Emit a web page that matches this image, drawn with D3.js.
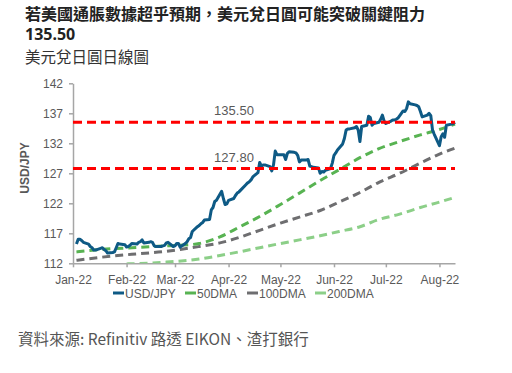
<!DOCTYPE html>
<html>
<head>
<meta charset="utf-8">
<script src="https://cdn.jsdelivr.net/npm/d3@7"></script>
<style>
  body { margin: 0; background: #fff; }
  svg { display: block; }
  .tick text { font-family: "Liberation Sans", Arial, sans-serif; font-size: 12px; fill: #595959; }
</style>
</head>
<body>
<svg id="chart" width="512" height="373"></svg>
<script>
// USD/JPY daily close
var usdDates = [
  '01-03','01-04','01-05','01-06','01-07','01-10','01-11','01-12','01-13','01-14',
  '01-17','01-18','01-19','01-20','01-21','01-24','01-25','01-26','01-27','01-28',
  '01-31','02-01','02-02','02-03','02-04','02-07','02-08','02-09','02-10','02-11',
  '02-14','02-15','02-16','02-17','02-18','02-21','02-22','02-23','02-24','02-25',
  '02-28','03-01','03-02','03-03','03-04','03-07','03-08','03-09','03-10','03-11',
  '03-14','03-15','03-16','03-17','03-18','03-21','03-22','03-23','03-24','03-25',
  '03-28','03-29','03-30','03-31','04-01','04-04','04-05','04-06','04-07','04-08',
  '04-11','04-12','04-13','04-14','04-15','04-18','04-19','04-20','04-21','04-22',
  '04-25','04-26','04-27','04-28','04-29','05-02','05-03','05-04','05-05','05-06',
  '05-09','05-10','05-11','05-12','05-13','05-16','05-17','05-18','05-19','05-20',
  '05-23','05-24','05-25','05-26','05-27','05-30','05-31','06-01','06-02','06-03',
  '06-06','06-07','06-08','06-09','06-10','06-13','06-14','06-15','06-16','06-17',
  '06-20','06-21','06-22','06-23','06-24','06-27','06-28','06-29','06-30','07-01',
  '07-04','07-05','07-06','07-07','07-08','07-11','07-12','07-13','07-14','07-15',
  '07-18','07-19','07-20','07-21','07-22','07-25','07-26','07-27','07-28','07-29',
  '08-01','08-02','08-03','08-04','08-05','08-08','08-09','08-10'
];
var usdValues = [
  115.2,116.0,116.0,115.8,115.5,115.2,114.8,114.6,114.2,114.2,
  114.5,114.6,114.3,114.1,113.7,113.8,113.9,114.6,115.3,115.2,
  115.1,114.7,114.8,115.0,115.3,115.2,115.5,115.6,115.9,115.4,
  115.5,115.6,115.5,114.9,114.8,114.8,114.9,115.0,115.4,115.5,
  114.8,114.9,115.3,115.3,114.7,115.3,115.6,116.1,116.3,117.3,
  118.1,118.3,118.6,118.8,119.2,119.3,120.9,121.3,122.3,122.5,
  124.0,122.8,121.8,121.9,122.5,122.8,123.3,123.7,123.9,124.2,
  125.1,125.4,125.6,125.9,126.4,127.1,128.8,128.2,128.4,128.4,
  128.1,127.4,128.4,130.7,130.1,130.1,130.1,129.3,130.3,130.6,
  130.5,130.4,130.0,128.9,129.2,129.2,129.3,128.2,128.1,128.0,
  127.9,127.0,127.3,127.2,127.5,127.8,128.7,130.0,130.4,130.9,
  131.9,132.8,134.2,134.4,134.4,134.6,134.8,134.2,132.3,134.8,
  135.0,136.5,136.3,135.0,135.3,135.5,136.0,136.7,135.7,135.3,
  135.7,135.9,135.9,136.0,136.2,137.4,137.3,137.8,138.9,138.6,
  138.4,138.3,138.1,137.3,136.4,136.7,137.0,136.6,134.2,133.5,
  131.6,133.1,133.6,133.0,135.0,135.2,135.3,135.5
];

// moving averages, sampled along the curve
var maDates = ['01-03','01-17','02-04','02-24','03-04','03-15','03-27','04-07','04-19','05-01',
               '05-12','05-24','06-04','06-16','06-27','07-09','07-21','08-01','08-10'];
var ma50 = [113.9,114.3,114.6,114.9,115.0,115.3,116.4,118.0,119.8,121.8,
            123.7,125.8,127.6,129.6,131.1,132.3,133.4,134.3,135.2];
var ma100 = [112.5,113.0,113.5,114.0,114.3,114.8,115.4,116.3,117.5,118.7,
             119.7,120.8,122.2,123.8,125.5,127.0,128.7,130.2,131.2];
var ma200Dates = ['02-01','02-24','03-15','03-27','04-07','04-19','05-01','05-12','05-24',
                  '06-04','06-16','06-27','07-09','07-21','08-01','08-10'];
var ma200 = [111.9,112.2,112.7,113.3,113.9,114.6,115.3,115.9,116.6,
             117.3,118.1,119.3,120.2,121.3,122.2,123.0];

var levels = [135.5, 127.8];
var yTicks = [112, 117, 122, 127, 132, 137, 142];
var seriesNames = ['USD/JPY', '50DMA', '100DMA', '200DMA'];
var seriesColors = ['#0e5a85', '#58b352', '#6e6e70', '#8ccf88'];

var parse = d3.timeParse('%Y-%m-%d');
function toDate(s) { return parse('2022-' + s); }

var svg = d3.select('#chart');
var plotL = 73, plotR = 455, plotT = 83.3, plotB = 263.3;

var x = d3.scaleTime()
    .domain([toDate('01-01'), toDate('08-10')])
    .range([plotL, plotR]);
var y = d3.scaleLinear().domain([112, 142]).range([plotB, plotT]);

// titles
svg.append('text').attr('x', 25).attr('y', 20)
    .style('font-family', '"Noto Sans CJK TC", "Noto Sans", sans-serif')
    .style('font-size', '16px').style('font-weight', 'bold').style('fill', '#222')
    .text('若美國通脹數據超乎預期，美元兌日圓可能突破關鍵阻力');
svg.append('text').attr('x', 25).attr('y', 40)
    .style('font-family', '"Noto Sans", sans-serif')
    .style('font-size', '16px').style('font-weight', 'bold').style('fill', '#222')
    .text('135.50');
svg.append('text').attr('x', 25).attr('y', 63)
    .style('font-family', '"Noto Sans CJK TC", sans-serif')
    .style('font-size', '15.5px').style('fill', '#333')
    .text('美元兌日圓日線圖');

// clip
svg.append('clipPath').attr('id', 'plot')
  .append('rect').attr('x', plotL).attr('y', plotT - 10).attr('width', plotR - plotL + 5).attr('height', plotB - plotT + 10);

// axes
var xAxis = svg.append('g')
    .attr('transform', 'translate(0,' + plotB + ')')
    .call(d3.axisBottom(x).ticks(d3.timeMonth.every(1)).tickFormat(d3.timeFormat('%b-%y')).tickSizeInner(4).tickSizeOuter(0).tickPadding(5));
xAxis.select('.domain').attr('stroke', '#a6a6a6').attr('stroke-width', 1.5);
xAxis.selectAll('.tick line').attr('stroke', '#a6a6a6').attr('stroke-width', 1.5);
xAxis.selectAll('.tick text').attr('dy', '0.95em');

var yAxis = svg.append('g')
    .attr('transform', 'translate(' + plotL + ',0)')
    .call(d3.axisLeft(y).tickValues(yTicks).tickSizeInner(4).tickSizeOuter(0).tickPadding(6));
yAxis.select('.domain').attr('stroke', '#a6a6a6').attr('stroke-width', 1.5);
yAxis.selectAll('.tick line').attr('stroke', '#a6a6a6').attr('stroke-width', 1.5);

svg.append('text')
    .attr('transform', 'translate(29,' + 168 + ') rotate(-90)')
    .attr('text-anchor', 'middle')
    .style('font-family', '"Liberation Sans", Arial, sans-serif')
    .style('font-size', '12px').style('font-weight', 'bold').style('fill', '#595959')
    .text('USD/JPY');

var line = d3.line().x(function (d) { return x(d[0]); }).y(function (d) { return y(d[1]); });
var g = svg.append('g').attr('clip-path', 'url(#plot)');

function pairs(dates, vals) {
    return dates.map(function (d, i) { return [toDate(d), vals[i]]; });
}

g.append('path').datum(pairs(ma200Dates, ma200)).attr('d', line.curve(d3.curveMonotoneX))
    .attr('fill', 'none').attr('stroke', seriesColors[3]).attr('stroke-width', 3).attr('stroke-dasharray', '8,5');
g.append('path').datum(pairs(maDates, ma100)).attr('d', line.curve(d3.curveMonotoneX))
    .attr('fill', 'none').attr('stroke', seriesColors[2]).attr('stroke-width', 3).attr('stroke-dasharray', '8,5');
g.append('path').datum(pairs(maDates, ma50)).attr('d', line.curve(d3.curveMonotoneX))
    .attr('fill', 'none').attr('stroke', seriesColors[1]).attr('stroke-width', 3).attr('stroke-dasharray', '8,5');
g.append('path').datum(pairs(usdDates, usdValues)).attr('d', line.curve(d3.curveLinear))
    .attr('fill', 'none').attr('stroke', seriesColors[0]).attr('stroke-width', 3).attr('stroke-linejoin', 'round');

// resistance / support levels
levels.forEach(function (v) {
    svg.append('line')
        .attr('x1', plotL).attr('x2', plotR).attr('y1', y(v)).attr('y2', y(v))
        .attr('stroke', '#ff0000').attr('stroke-width', 3).attr('stroke-dasharray', '9,5');
    svg.append('text')
        .attr('x', 234).attr('y', y(v) - 7)
        .attr('text-anchor', 'middle')
        .style('font-family', '"Liberation Sans", Arial, sans-serif')
        .style('font-size', '13px').style('fill', '#595959')
        .text(d3.format('.2f')(v));
});

// legend
var legendX = [113, 185, 247, 315];
var legend = svg.append('g').attr('transform', 'translate(0,293)');
seriesNames.forEach(function (name, i) {
    legend.append('line')
        .attr('x1', legendX[i]).attr('x2', legendX[i] + 11).attr('y1', 0).attr('y2', 0)
        .attr('stroke', seriesColors[i]).attr('stroke-width', 3);
    legend.append('text')
        .attr('x', legendX[i] + 12).attr('y', 4.5)
        .style('font-family', '"Liberation Sans", Arial, sans-serif')
        .style('font-size', '12px').style('fill', '#595959')
        .text(name);
});

// source
svg.append('text').attr('x', 18).attr('y', 345)
    .style('font-family', '"Noto Sans CJK TC", "Noto Sans", sans-serif')
    .style('font-size', '15.5px').style('fill', '#555')
    .text('資料來源: Refinitiv 路透 EIKON、渣打銀行');
</script>
</body>
</html>
